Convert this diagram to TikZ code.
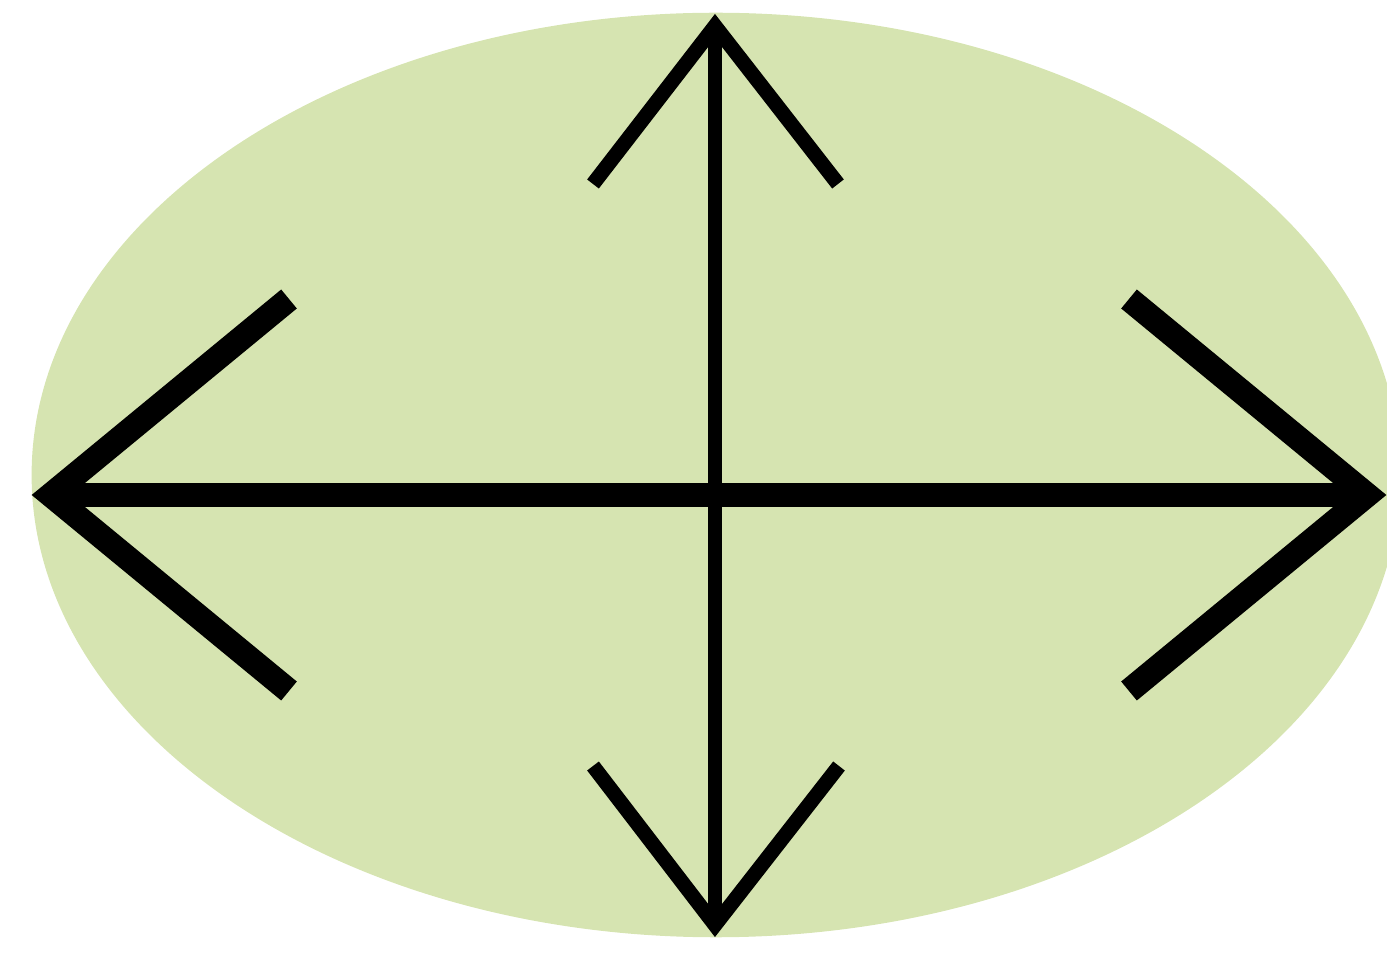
\documentclass[tikz,border=0pt]{standalone}
\usepackage{tikz}
\definecolor{leafgreen}{RGB}{214,228,177}
\tikzset{
    widearrow/.style={line width=7pt, line join=miter},
    tallarrow/.style={line width=4.2pt, line join=miter},
    backdrop/.style={fill=leafgreen}
}
\begin{document}
\begin{tikzpicture}[x=0.01cm, y=-0.01cm]
    \useasboundingbox (0,0) rectangle (1387,961);
    \clip (0,0) rectangle (1387,961);

    % Green ellipse behind the arrows
    \fill[backdrop] (716,475) ellipse [x radius=6.84cm, y radius=4.62cm];

    % Tips and barb ends
    \coordinate (w) at (51,495);
    \coordinate (e) at (1367,495);
    \coordinate (n) at (715,26);
    \coordinate (s) at (715,925);
    \coordinate (w1) at (289,299);
    \coordinate (w2) at (289,691);
    \coordinate (e1) at (1129,299);
    \coordinate (e2) at (1129,691);
    \coordinate (n1) at (593,184);
    \coordinate (n2) at (838,184);
    \coordinate (s1) at (593,766);
    \coordinate (s2) at (839,766);

    % Horizontal double arrow
    \draw[widearrow] (w) -- (e);
    \draw[widearrow] (w1) -- (w) -- (w2);
    \draw[widearrow] (e1) -- (e) -- (e2);

    % Vertical double arrow
    \draw[tallarrow] (n) -- (s);
    \draw[tallarrow] (n1) -- (n) -- (n2);
    \draw[tallarrow] (s1) -- (s) -- (s2);
\end{tikzpicture}
\end{document}
